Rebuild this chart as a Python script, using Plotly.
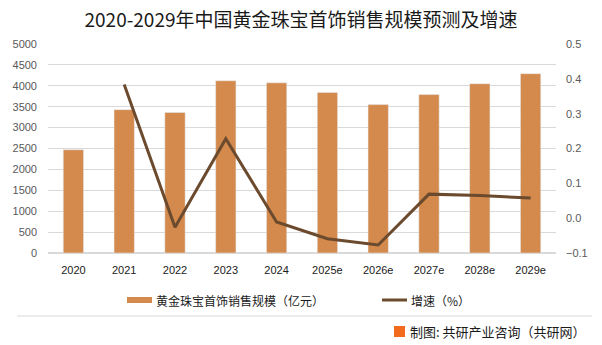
import plotly.graph_objects as go

years = ["2020", "2021", "2022", "2023", "2024", "2025e", "2026e", "2027e", "2028e", "2029e"]
sales = [2470, 3430, 3360, 4120, 4070, 3840, 3550, 3790, 4050, 4290]
growth_years = years[1:]
growth = [0.384, -0.026, 0.228, -0.011, -0.059, -0.077, 0.069, 0.065, 0.058]

title = "2020-2029年中国黄金珠宝首饰销售规模预测及增速"
bar_name = "黄金珠宝首饰销售规模（亿元）"
line_name = "增速（%）"
source = "制图: 共研产业咨询（共研网）"

bar_color = "#D48A4C"
line_color = "#6B4A2E"
num_font = "Liberation Sans, Arial, sans-serif"
cjk_font = "Noto Sans CJK SC, sans-serif"

fig = go.Figure()
fig.add_trace(go.Bar(x=years, y=sales, name=bar_name, marker_color=bar_color,
                     showlegend=False, yaxis="y"))
fig.add_trace(go.Scatter(x=growth_years, y=growth, name=line_name, mode="lines",
                         line=dict(color=line_color, width=3), showlegend=False, yaxis="y2"))

fig.update_layout(
    width=602, height=345,
    margin=dict(l=48, r=46, t=44, b=92),
    paper_bgcolor="white", plot_bgcolor="white",
    bargap=0.6,
    title=dict(text=title, x=0.5, xanchor="center", y=0.94, yanchor="middle",
               font=dict(family=cjk_font, size=19, color="#1a1a1a")),
    xaxis=dict(showgrid=False, showline=False, ticks="", ticklabelstandoff=9,
               tickfont=dict(family=num_font, size=11, color="#1a1a1a")),
    yaxis=dict(range=[0, 5000], dtick=500, showgrid=True, gridcolor="#D9D9D9",
               gridwidth=1, zeroline=True, zerolinecolor="#D9D9D9", showline=False,
               ticks="", ticklabelstandoff=10,
               tickfont=dict(family=num_font, size=11, color="#595959")),
    yaxis2=dict(range=[-0.1, 0.5], dtick=0.1, tickformat=".1f", overlaying="y",
                side="right", showgrid=False, zeroline=False, showline=False,
                ticks="", ticklabelstandoff=9,
                tickfont=dict(family=num_font, size=11, color="#595959")),
)

# Manual legend
fig.add_shape(type="rect", xref="paper", yref="paper",
              x0=(127 - 48) / 508, x1=(152 - 48) / 508,
              y0=(253 - 303) / 209, y1=(253 - 297) / 209,
              fillcolor=bar_color, line=dict(width=0))
fig.add_annotation(xref="paper", yref="paper", x=(154 - 48) / 508, y=(253 - 300) / 209,
                   text=bar_name, showarrow=False, xanchor="left", yanchor="middle",
                   font=dict(family=cjk_font, size=12, color="#1a1a1a"))
fig.add_shape(type="line", xref="paper", yref="paper",
              x0=(382 - 48) / 508, x1=(407 - 48) / 508,
              y0=(253 - 300) / 209, y1=(253 - 300) / 209,
              line=dict(color=line_color, width=3))
fig.add_annotation(xref="paper", yref="paper", x=(409 - 48) / 508, y=(253 - 300) / 209,
                   text=line_name, showarrow=False, xanchor="left", yanchor="middle",
                   font=dict(family=cjk_font, size=12, color="#1a1a1a"))

# Separator
fig.add_shape(type="line", xref="paper", yref="paper",
              x0=(17 - 48) / 508, x1=(592 - 48) / 508,
              y0=(253 - 316) / 209, y1=(253 - 316) / 209,
              line=dict(color="#D9D9D9", width=1))

# Source with icon
fig.add_shape(type="rect", xref="paper", yref="paper",
              x0=(394 - 48) / 508, x1=(405 - 48) / 508,
              y0=(253 - 337) / 209, y1=(253 - 326) / 209,
              fillcolor="#F26B1D", line=dict(width=0))
fig.add_annotation(xref="paper", yref="paper", x=(408 - 48) / 508, y=(253 - 331) / 209,
                   text=source, showarrow=False, xanchor="left", yanchor="middle",
                   font=dict(family=cjk_font, size=13, color="#1a1a1a"))

fig.write_html("out.html")
